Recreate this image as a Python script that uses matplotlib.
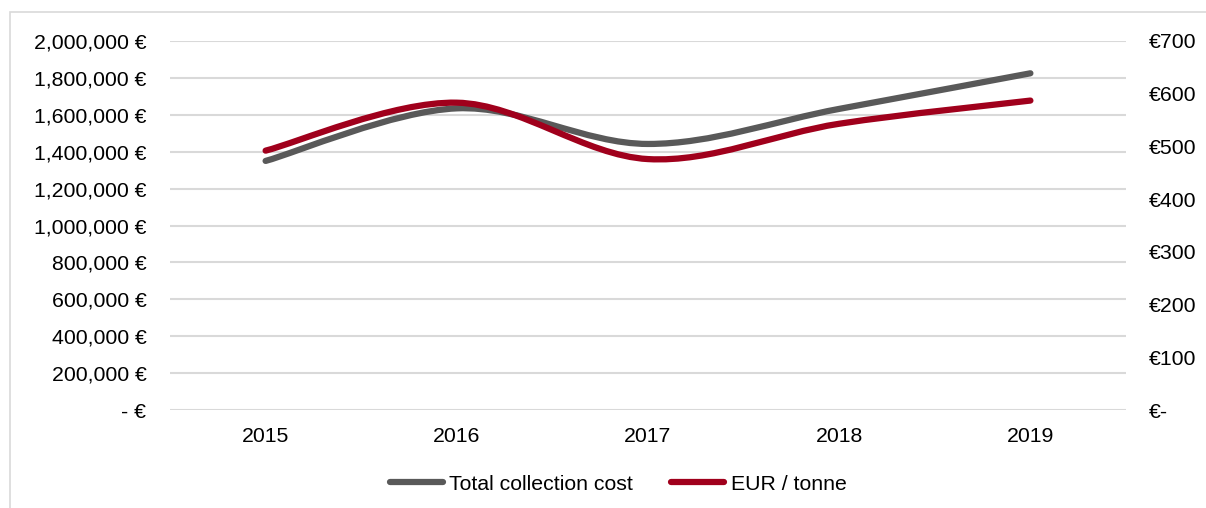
import matplotlib.pyplot as plt
from matplotlib.path import Path
from matplotlib.patches import PathPatch, Rectangle
from matplotlib.lines import Line2D
from matplotlib.ticker import FuncFormatter, MultipleLocator

plt.rcParams['font.family'] = ['Liberation Sans', 'DejaVu Sans']

years = ['2015', '2016', '2017', '2018', '2019']
total_cost = [1350000, 1635000, 1442000, 1632000, 1825000]
eur_per_tonne = [492, 583, 476, 543, 587]

GREY = '#595959'
RED = '#A0001C'
GRID = '#D9D9D9'
FS = 15.3


def smooth_path(xs, ys):
    # Catmull-Rom style cubic bezier through the points (spreadsheet "smoothed line")
    pts = list(zip(xs, ys))
    n = len(pts)
    verts = [pts[0]]
    codes = [Path.MOVETO]
    for i in range(n - 1):
        p0 = pts[max(i - 1, 0)]
        p1 = pts[i]
        p2 = pts[i + 1]
        p3 = pts[min(i + 2, n - 1)]
        c1 = (p1[0] + (p2[0] - p0[0]) / 6, p1[1] + (p2[1] - p0[1]) / 6)
        c2 = (p2[0] - (p3[0] - p1[0]) / 6, p2[1] - (p3[1] - p1[1]) / 6)
        verts += [c1, c2, p2]
        codes += [Path.CURVE4] * 3
    return Path(verts, codes)


fig = plt.figure(figsize=(12.06, 5.08), dpi=100)
fig.patches.append(Rectangle((10 / 1206, -0.1), 1.2, (508 - 12) / 508 + 0.1,
                             transform=fig.transFigure, fill=False,
                             edgecolor='#D9D9D9', linewidth=1.2))

ax = fig.add_axes([170 / 1206, 1 - 410 / 508, (1126 - 170) / 1206, (410 - 41) / 508])
ax2 = ax.twinx()

x = list(range(len(years)))

ax.set_xlim(-0.5, len(years) - 0.5)
ax.set_ylim(0, 2000000)
ax2.set_ylim(0, 700)
ax.yaxis.set_major_locator(MultipleLocator(200000))
ax2.yaxis.set_major_locator(MultipleLocator(100))

for v in range(0, 2000001, 200000):
    ax.axhline(v, color=GRID, linewidth=1.5, zorder=0)

ax.add_patch(PathPatch(smooth_path(x, total_cost), fill=False, edgecolor=GREY,
                       linewidth=4.5, capstyle='round', joinstyle='round', zorder=3))
ax2.add_patch(PathPatch(smooth_path(x, eur_per_tonne), fill=False, edgecolor=RED,
                        linewidth=4.5, capstyle='round', joinstyle='round', zorder=3))

ax.yaxis.set_major_formatter(FuncFormatter(
    lambda v, p: '- €' if v == 0 else f'{v:,.0f} €'))
ax2.yaxis.set_major_formatter(FuncFormatter(
    lambda v, p: '€-' if v == 0 else f'€{v:.0f}'))

ax.set_xticks(x)
ax.set_xticklabels(years)

for a in (ax, ax2):
    for s in a.spines.values():
        s.set_visible(False)
    a.tick_params(length=0, labelsize=FS, colors='#000000')
ax.tick_params(axis='y', pad=17)
ax2.tick_params(axis='y', pad=16.5)
ax.tick_params(axis='x', pad=12)

handles = [Line2D([], [], color=GREY, linewidth=4.5, solid_capstyle='round'),
           Line2D([], [], color=RED, linewidth=4.5, solid_capstyle='round')]
fig.legend(handles, ['Total collection cost', 'EUR / tonne'], loc='center',
           bbox_to_anchor=(618 / 1206, 1 - 484 / 508), ncol=2, frameon=False,
           fontsize=FS, handlelength=2.5, handletextpad=0.3, columnspacing=1.8)

fig.savefig('out.png', dpi=100)
